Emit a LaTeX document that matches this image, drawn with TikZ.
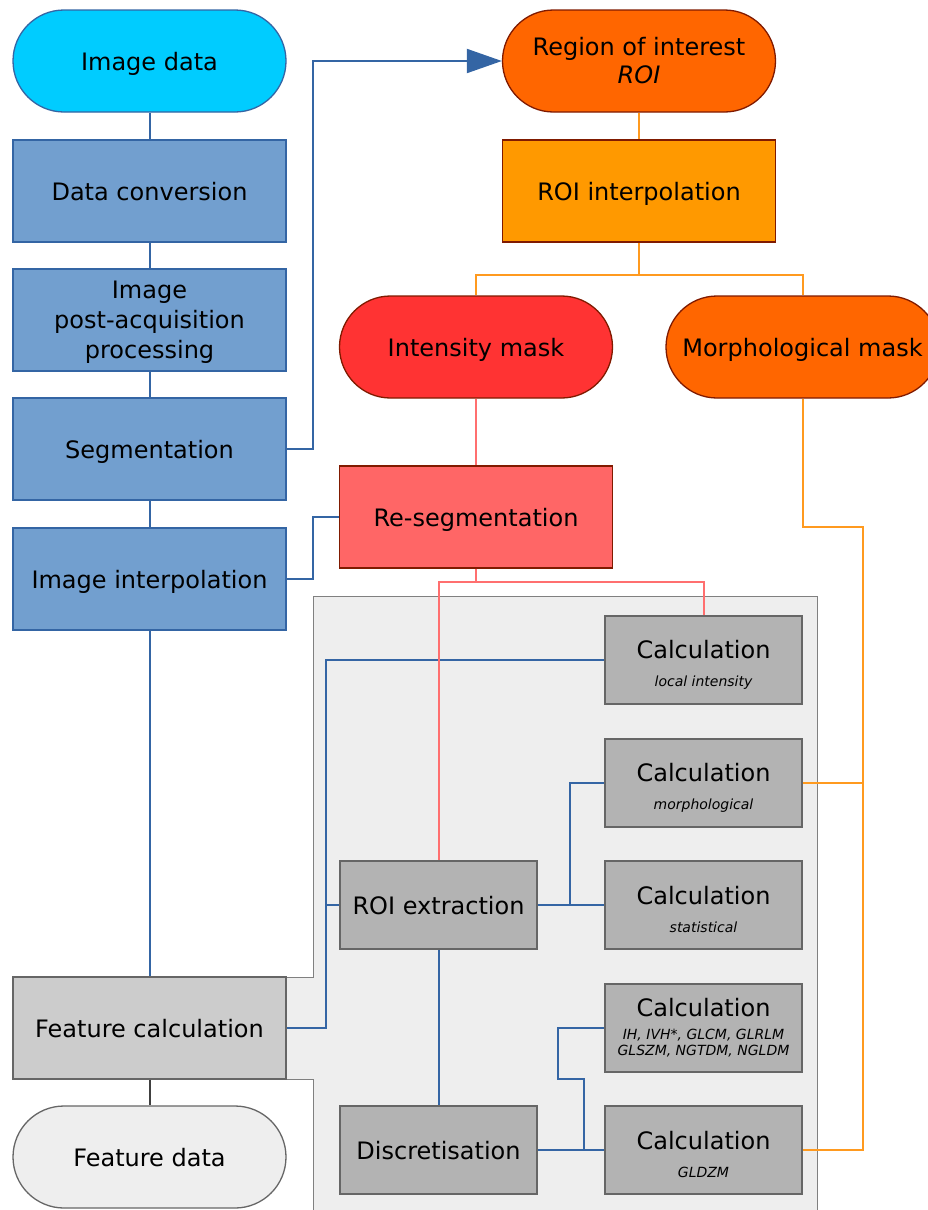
\documentclass[tikz,border=0pt]{standalone}
\usepackage{fontspec}
\setmainfont{DejaVu Sans}
\usetikzlibrary{arrows.meta,calc}
\definecolor{bline}{HTML}{3465A4}
\definecolor{bfill}{HTML}{729FCF}
\definecolor{cyanf}{HTML}{00CCFF}
\definecolor{oline}{HTML}{FF9A1F}
\definecolor{rline}{HTML}{FF6F6F}
\definecolor{darkred}{HTML}{801A00}
\definecolor{roif}{HTML}{FF6600}
\definecolor{roiif}{HTML}{FF9900}
\definecolor{imf}{HTML}{FF3333}
\definecolor{rsf}{HTML}{FF6666}
\definecolor{gbox}{HTML}{B3B3B3}
\definecolor{gline}{HTML}{666666}
\definecolor{panelf}{HTML}{EEEEEE}
\definecolor{fcf}{HTML}{CCCCCC}
\tikzset{
  bigtxt/.style={font=\fontsize{24}{30}\selectfont},
  wide/.style={minimum width=273pt, minimum height=102pt, inner sep=0pt, align=center, bigtxt, line width=1.3pt},
  stad/.style={wide, rounded corners=51pt},
  bluebox/.style={wide, fill=bfill, draw=bline},
  calcbox/.style={minimum width=197pt, minimum height=88pt, inner sep=0pt, align=center, bigtxt, fill=gbox, draw=gline, line width=1.3pt},
  bl/.style={draw=bline, line width=2pt},
  orl/.style={draw=oline, line width=2pt},
  rdl/.style={draw=rline, line width=2pt},
}
\newcommand{\subt}[1]{{\fontsize{14}{16}\selectfont\itshape #1}}
\newcommand{\lowr}{\rule{0pt}{27pt}}
\newcommand{\nod}[1]{\raisebox{0pt}[\height][0pt]{#1}}
\begin{document}
\begin{tikzpicture}[x=1pt,y=-1pt]
\useasboundingbox (0,0) rectangle (928,1210);
\clip (0,0) rectangle (928,1210);
% panel
\draw[fill=panelf, draw=gray, line width=1pt] (313,596) -- (817,596) -- (817,1220) -- (313,1220) -- (313,1079) -- (286,1079) -- (286,977) -- (313,977) -- cycle;
% left column
\node[stad, fill=cyanf, draw=bline] (imgdata) at (149.5,61) {\nod{Image data}};
\node[bluebox] (conv) at (149.5,191) {\nod{Data conversion}};
\node[bluebox] (post) at (149.5,320) {\rule{0pt}{22pt}Image\\post-acquisition\\processing};
\node[bluebox] (seg) at (149.5,449) {\nod{Segmentation}};
\node[bluebox] (interp) at (149.5,579) {\nod{Image interpolation}};
\node[wide, fill=fcf, draw=gline] (featcalc) at (149.5,1028) {\nod{Feature calculation}};
\node[stad, fill=panelf, draw=gline] (featdata) at (149.5,1157) {\nod{Feature data}};
% right upper
\node[stad, fill=roif, draw=darkred] (roi) at (639,61) {Region of interest\\[-2pt]\textit{ROI}};
\node[wide, fill=roiif, draw=darkred] (roiint) at (639,191) {\nod{ROI interpolation}};
\node[stad, fill=imf, draw=darkred] (intmask) at (476,347) {\nod{Intensity mask}};
\node[stad, fill=roif, draw=darkred] (morphmask) at (802.5,347) {\nod{Morphological mask}};
\node[wide, fill=rsf, draw=darkred] (reseg) at (476,517) {\nod{Re-segmentation}};
% gray boxes
\node[calcbox] (calcloc) at (703.5,660) {\lowr Calculation\\[-2pt]\subt{local intensity}};
\node[calcbox] (calcmorph) at (703.5,783) {\lowr Calculation\\[-2pt]\subt{morphological}};
\node[calcbox] (calcstat) at (703.5,905) {\lowr Calculation\\[-2pt]\subt{statistical}};
\node[calcbox] (calcih) at (703.5,1028) {Calculation\\[-7pt]\subt{IH, IVH*, GLCM, GLRLM}\\[-14pt]\subt{GLSZM, NGTDM, NGLDM}};
\node[calcbox] (calcgldzm) at (703.5,1150) {\lowr Calculation\\[-2pt]\subt{GLDZM}};
\node[calcbox] (roiext) at (438.5,905) {\nod{ROI extraction}};
\node[calcbox] (disc) at (438.5,1150) {\nod{Discretisation}};
% bus coordinates
\coordinate (bx1) at (313,0);
\coordinate (bx2) at (326,0);
\coordinate (bx3) at (570,0);
\coordinate (bx4) at (584,1079);
\coordinate (bx5) at (558,1079);
\coordinate (oy) at (0,275);
\coordinate (ox) at (863,527);
\coordinate (ry) at (0,582);
% blue connectors
\draw[bl] (imgdata.south) -- (conv.north);
\draw[bl] (conv.south) -- (post.north);
\draw[bl] (post.south) -- (seg.north);
\draw[bl] (seg.south) -- (interp.north);
\draw[bl] (interp.south) -- (featcalc.north);
\draw[bl, -{Triangle[length=35pt,width=24pt]}] (seg.east) -- (seg.east -| bx1) |- (roi.west);
\draw[bl] (interp.east) -- (interp.east -| bx1) |- (reseg.west);
\draw[bl] (featcalc.east) -- (featcalc.east -| bx2) |- (calcloc.west);
\draw[bl] (roiext.west) -- (roiext.west -| bx2);
\draw[bl] (roiext.east) -- (calcstat.west);
\draw[bl] (roiext.east -| bx3) |- (calcmorph.west);
\draw[bl] (roiext.south) -- (disc.north);
\draw[bl] (disc.east) -- (calcgldzm.west);
\draw[bl] (disc.east -| bx4) -- (bx4) -- (bx5) |- (calcih.west);
% orange connectors
\draw[orl] (roi.south) -- (roiint.north);
\draw[orl] (roiint.south) -- (roiint.south |- oy) -| (intmask.north);
\draw[orl] (roiint.south |- oy) -| (morphmask.north);
\draw[orl] (morphmask.south) |- (ox) |- (calcgldzm.east);
\draw[orl] (calcmorph.east) -- (calcmorph.east -| ox);
% red connectors
\draw[rdl] (intmask.south) -- (reseg.north);
\draw[rdl] (reseg.south) -- (reseg.south |- ry) -| (roiext.north);
\draw[rdl] (reseg.south |- ry) -| (calcloc.north);
% dark connector
\draw[draw=black!75, line width=2pt] (featcalc.south) -- (featdata.north);
\end{tikzpicture}
\end{document}
